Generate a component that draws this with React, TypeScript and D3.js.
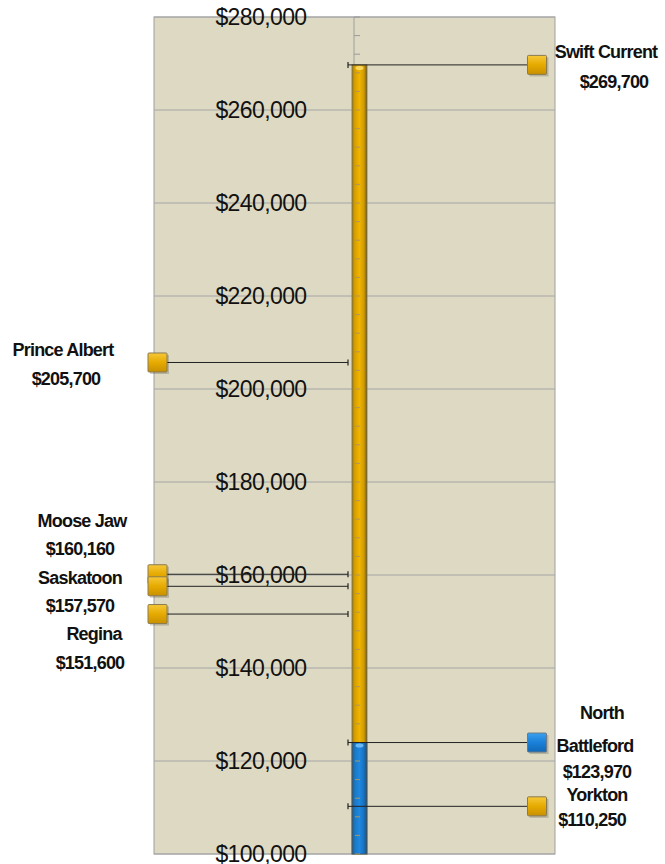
import React from 'react';
import * as d3 from 'd3';

// house prices by city
const cities = ['Swift Current', 'Prince Albert', 'Moose Jaw', 'Saskatoon', 'Regina', 'North Battleford', 'Yorkton'];
const prices = [269700, 205700, 160160, 157570, 151600, 123970, 110250];
const sides = ['right', 'left', 'left', 'left', 'left', 'right', 'right'];
const highlight = ['North Battleford'];
const tickValues = [100000, 120000, 140000, 160000, 180000, 200000, 220000, 240000, 260000, 280000];

// label placement (line text, x centre, y centre)
const labelLines: [string, number, number][][] = [
  [['Swift Current', 606, 52], ['$269,700', 614, 82]],
  [['Prince Albert', 63, 350], ['$205,700', 66, 379]],
  [['Moose Jaw', 82, 521], ['$160,160', 80, 549]],
  [['Saskatoon', 80, 578], ['$157,570', 80, 606]],
  [['Regina', 94, 634], ['$151,600', 90, 663]],
  [['North', 602, 713], ['Battleford', 595, 746], ['$123,970', 597, 772]],
  [['Yorkton', 597, 795], ['$110,250', 592, 820]],
];

const W = 665;
const H = 864;
const plotL = 154;
const plotR = 555;
const axisX = 354;

const y = d3.scaleLinear().domain([100000, 280000]).range([854, 17]);
const fmt = (v: number) => '$' + d3.format(',')(v);
const minor = d3.range(100000, 280001, 4000);

const gold = '#e3a800';
const blue = '#1b7fd4';

export default function App() {
  const maxP = d3.max(prices) as number;
  const minHi = prices[cities.indexOf(highlight[0])];
  const barX = 352;
  const barW = 15;
  return (
    <svg width={W} height={H} style={{ position: 'absolute', left: 0, top: 0 }}
      fontFamily="'Liberation Sans Narrow', 'Arial Narrow', sans-serif">
      <defs>
        <linearGradient id="gGold" x1="0" x2="1" y1="0" y2="0">
          <stop offset="0" stopColor="#9a7a10" />
          <stop offset="0.2" stopColor="#d9a000" />
          <stop offset="0.5" stopColor="#f0b400" />
          <stop offset="0.8" stopColor="#d09a00" />
          <stop offset="1" stopColor="#6e5a20" />
        </linearGradient>
        <linearGradient id="gBlue" x1="0" x2="1" y1="0" y2="0">
          <stop offset="0" stopColor="#2a5a80" />
          <stop offset="0.2" stopColor="#1a78c8" />
          <stop offset="0.5" stopColor="#1e88e0" />
          <stop offset="0.8" stopColor="#1670c0" />
          <stop offset="1" stopColor="#2a4a60" />
        </linearGradient>
        <linearGradient id="mGold" x1="0" x2="0" y1="0" y2="1">
          <stop offset="0" stopColor="#f6c838" />
          <stop offset="0.5" stopColor="#e6aa00" />
          <stop offset="1" stopColor="#c89000" />
        </linearGradient>
        <linearGradient id="mBlue" x1="0" x2="0" y1="0" y2="1">
          <stop offset="0" stopColor="#3aa0ee" />
          <stop offset="0.5" stopColor="#1a80d8" />
          <stop offset="1" stopColor="#1268b8" />
        </linearGradient>
      </defs>

      <rect x={plotL} y={y(280000)} width={plotR - plotL} height={y(100000) - y(280000)}
        fill="#ddd9c3" stroke="#a0a0a0" strokeWidth={1} />
      {tickValues.map(t => (
        <line key={t} x1={plotL} x2={plotR} y1={y(t)} y2={y(t)} stroke="#a6a6a6" strokeWidth={1} />
      ))}
      <line x1={axisX} x2={axisX} y1={y(280000)} y2={y(100000)} stroke="#a0a0a0" />
      {minor.map(t => (
        <line key={t} x1={axisX} x2={axisX + 6} y1={y(t)} y2={y(t)} stroke="#9a9a9a" />
      ))}

      {tickValues.map(t => (
        <text key={t} x={261} y={y(t)} dy="0.35em" textAnchor="middle" fontSize={23}
          letterSpacing={-0.6} fill="#111">{fmt(t)}</text>
      ))}

      {/* thermometer column */}
      <rect x={barX} y={y(maxP)} width={barW} height={y(100000) - y(maxP)}
        fill="url(#gGold)" stroke="#7a7050" strokeWidth={0.8} />
      <rect x={barX} y={y(minHi)} width={barW} height={y(100000) - y(minHi)}
        fill="url(#gBlue)" stroke="#4a5a60" strokeWidth={0.8} />
      <ellipse cx={barX + barW / 2} cy={y(maxP) + 3} rx={4} ry={2} fill="#ffe070" opacity={0.8} />
      <ellipse cx={barX + barW / 2} cy={y(minHi) + 3} rx={4} ry={2} fill="#80c8ff" opacity={0.8} />
      {minor.filter(t => t <= maxP).map(t => (
        <line key={'b' + t} x1={axisX + 1} x2={axisX + 6} y1={y(t)} y2={y(t)} stroke="#a89860" strokeWidth={1} />
      ))}

      {/* leaders and markers */}
      {cities.map((c, i) => {
        const yy = y(prices[i]);
        const right = sides[i] === 'right';
        const mx = right ? 537 : 157.5;
        const hi = highlight.includes(c);
        return (
          <g key={c}>
            <line x1={348} x2={mx} y1={yy} y2={yy} stroke="#222" strokeWidth={1} />
            <line x1={348} x2={348} y1={yy - 3} y2={yy + 3} stroke="#222" strokeWidth={1.2} />
            <rect x={mx - 9.5 + 2} y={yy - 9.5 + 2} width={19} height={19} fill="#000" opacity={0.18} />
            <rect x={mx - 9.5} y={yy - 9.5} width={19} height={19} rx={1}
              fill={hi ? 'url(#mBlue)' : 'url(#mGold)'} stroke={hi ? '#6a7a88' : '#8a7a50'} strokeWidth={1} />
          </g>
        );
      })}

      {labelLines.map((lines, i) => (
        <g key={cities[i]}>
          {lines.map(([txt, lx, ly]) => (
            <text key={txt} x={lx} y={ly} dy="0.35em" textAnchor="middle" fontSize={18}
              fontWeight="bold" letterSpacing={-0.8} fill="#111">{txt}</text>
          ))}
        </g>
      ))}
    </svg>
  );
}
